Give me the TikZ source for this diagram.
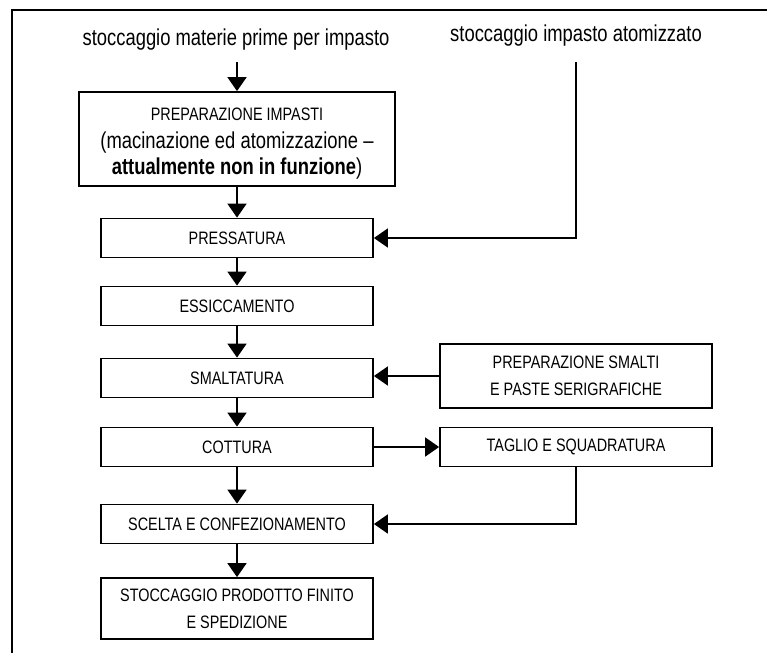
\documentclass[tikz,border=0pt]{standalone}
\usepackage{fontspec}
\setmainfont[FakeStretch=0.8]{Liberation Sans}
\usetikzlibrary{arrows.meta}
\newcommand{\boxfont}{\fontsize{18}{27}\selectfont}
\newcommand{\bigfont}{\fontsize{23}{27}\selectfont}
\begin{document}
\begin{tikzpicture}[x=1pt,y=-1pt,
  proc/.style={draw, line width=1.8pt, minimum width=272pt, minimum height=39pt, inner sep=0pt, align=center, font=\boxfont},
  flow/.style={line width=1.8pt, -{Triangle[width=19pt,length=14pt]}},
  lbl/.style={inner sep=0pt, font=\bigfont},
  frame/.style={line width=1.8pt}]
\useasboundingbox (0,0) rectangle (767,653);
\coordinate (ftop) at (767,10);
\coordinate (fcorner) at (12,10);
\coordinate (fbot) at (12,653);
\draw[frame] (ftop) -- (fcorner) -- (fbot);

\node[lbl] (raw) at (236,40) {stoccaggio materie prime per impasto};
\node[lbl] (atom) at (576,36) {stoccaggio impasto atomizzato};

\node[proc, minimum width=316pt, minimum height=94pt,
  label={[align=center, font=\boxfont, inner sep=0pt, yshift=-5pt]center:PREPARAZIONE IMPASTI\\[1pt]{\bigfont(macinazione ed atomizzazione –}\\[-1pt]{\bigfont\textbf{attualmente non in funzione})}}] (prep) at (237,139) {};
\node[proc] (press) at (237,238) {PRESSATURA};
\node[proc] (essic) at (237,306) {ESSICCAMENTO};
\node[proc] (smalt) at (237,378) {SMALTATURA};
\node[proc] (cott) at (237,447) {COTTURA};
\node[proc] (scelta) at (237,524) {SCELTA E CONFEZIONAMENTO};
\node[proc, minimum height=61pt] (stock) at (237,608.5) {STOCCAGGIO PRODOTTO FINITO\\E SPEDIZIONE};
\node[proc, minimum height=64pt] (smalti) at (576,376) {PREPARAZIONE SMALTI\\E PASTE SERIGRAFICHE};
\node[proc] (taglio) at (576,447) {TAGLIO E SQUADRATURA};

\coordinate (rawarr) at (237,62);
\coordinate (atomarr) at (576,62);
\draw[flow] (rawarr) -- (prep.north);
\draw[flow] (prep) -- (press);
\draw[flow] (press) -- (essic);
\draw[flow] (essic) -- (smalt);
\draw[flow] (smalt) -- (cott);
\draw[flow] (cott) -- (scelta);
\draw[flow] (scelta) -- (stock);
\draw[flow] (atomarr) |- (press.east);
\draw[flow] (smalti.west) -- (smalti.west -| smalt.east);
\draw[flow] (cott.east) -- (taglio.west);
\draw[flow] (taglio.south) |- (scelta.east);
\end{tikzpicture}
\end{document}
